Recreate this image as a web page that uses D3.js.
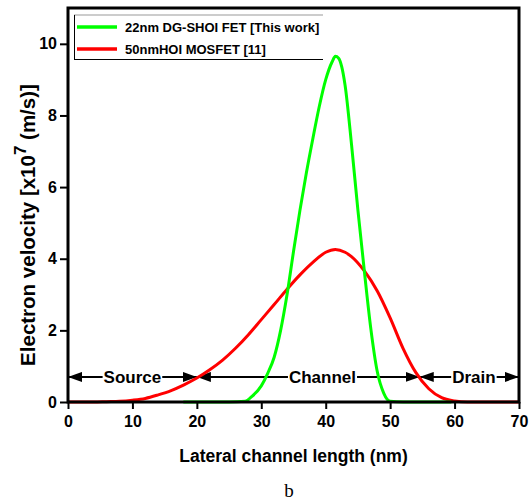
<!DOCTYPE html>
<html><head><meta charset="utf-8">
<script src="https://cdn.jsdelivr.net/npm/d3@7"></script>
<style>body{margin:0;background:#fff}svg{display:block}</style>
</head><body>
<script>
const greenX = [17.9, 20, 25, 27.5, 28.5, 30, 31, 32, 33, 34, 35, 36, 37, 38, 39, 40, 41, 41.5, 42, 42.5, 43, 44, 45, 46, 47, 48, 49, 50, 52, 55, 59.5];
const greenY = [0, 0, 0, 0.02, 0.15, 0.45, 0.8, 1.25, 2.0, 3.0, 4.2, 5.35, 6.4, 7.35, 8.25, 9.0, 9.5, 9.65, 9.6, 9.35, 8.85, 7.2, 5.35, 3.65, 2.05, 0.85, 0.25, 0.02, 0, 0, 0];
const redX = [0, 2, 4, 6, 8, 10, 12, 14, 16, 18, 20, 22, 24, 26, 28, 30, 32, 34, 36, 38, 40, 41.5, 43, 44, 46, 48, 50, 52, 54, 56, 58, 60, 62, 64, 66, 68, 70];
const redY = [0, 0, 0, 0.01, 0.02, 0.05, 0.1, 0.2, 0.32, 0.48, 0.67, 0.9, 1.17, 1.5, 1.88, 2.3, 2.72, 3.15, 3.55, 3.9, 4.18, 4.26, 4.18, 4.06, 3.66, 3.1, 2.35, 1.5, 0.82, 0.37, 0.12, 0.03, 0, 0, 0, 0, 0];
const seriesNames = ["22nm DG-SHOI FET [This work]", "50nmHOI MOSFET [11]"];
const seriesColors = ["#00ff00", "#ff0000"];
const xTicks = [0, 10, 20, 30, 40, 50, 60, 70];
const yTicks = [0, 2, 4, 6, 8, 10];
const regionLabels = ["Source", "Channel", "Drain"];
const regionBounds = [0, 20, 54.6, 70];
const regionTextX = [10, 39.5, 63];
const arrowLevel = 0.7;

const W = 532, H = 501;
const m = {l: 68, r: 519, t: 8, b: 402};
const svg = d3.select("body").append("svg").attr("width", W).attr("height", H);
const x = d3.scaleLinear().domain([0, 70]).range([m.l, m.r]);
const y = d3.scaleLinear().domain([0, 11]).range([m.b, m.t]);

const defs = svg.append("defs");
defs.append("marker").attr("id", "ah").attr("viewBox", "0 0 14 10").attr("refX", 14).attr("refY", 5)
  .attr("markerWidth", 14).attr("markerHeight", 10).attr("markerUnits", "userSpaceOnUse").attr("orient", "auto-start-reverse")
  .append("path").attr("d", "M0,0 L14,5 L0,10 Z").attr("fill", "#000");

const line = d3.line().x(d => x(d[0])).y(d => y(d[1])).curve(d3.curveMonotoneX);
const greenData = greenX.map((v, i) => [v, greenY[i]]);
const redData = redX.map((v, i) => [v, redY[i]]);

const font = "'Liberation Sans', Arial, sans-serif";
regionLabels.forEach((lab, i) => {
  svg.append("line").attr("x1", x(regionBounds[i])).attr("x2", x(regionBounds[i + 1]))
    .attr("y1", y(arrowLevel)).attr("y2", y(arrowLevel)).attr("stroke", "#000").attr("stroke-width", 2)
    .attr("marker-start", "url(#ah)").attr("marker-end", "url(#ah)");
});
const labG = svg.append("g");
regionLabels.forEach((lab, i) => {
  const t = labG.append("text").attr("x", x(regionTextX[i])).attr("y", y(arrowLevel) + 6)
    .attr("text-anchor", "middle").attr("font-family", font).attr("font-size", 17).attr("font-weight", "bold")
    .attr("fill", "#000").text(lab);
  const bb = t.node().getBBox();
  labG.insert("rect", "text").attr("x", bb.x - 1).attr("y", y(arrowLevel) - 3).attr("width", bb.width + 2).attr("height", 6).attr("fill", "#fff");
});

svg.append("path").datum(redData).attr("d", line).attr("fill", "none").attr("stroke", seriesColors[1]).attr("stroke-width", 3);
svg.append("path").datum(greenData).attr("d", line).attr("fill", "none").attr("stroke", seriesColors[0]).attr("stroke-width", 3);

const xAxis = svg.append("g").attr("transform", `translate(0,${m.b})`)
  .call(d3.axisBottom(x).tickValues(xTicks).tickSize(7).tickSizeOuter(0).tickPadding(7));
const yAxis = svg.append("g").attr("transform", `translate(${m.l},0)`)
  .call(d3.axisLeft(y).tickValues(yTicks).tickSize(8).tickSizeOuter(0).tickPadding(3));
[xAxis, yAxis].forEach(a => {
  a.select(".domain").remove();
  a.selectAll(".tick line").attr("stroke", "#000").attr("stroke-width", 2);
  a.selectAll(".tick text").attr("font-family", font).attr("font-size", 16).attr("font-weight", "bold").attr("fill", "#000");
});
svg.append("rect").attr("x", m.l).attr("y", m.t).attr("width", m.r - m.l).attr("height", m.b - m.t)
  .attr("fill", "none").attr("stroke", "#000").attr("stroke-width", 3);

const lg = svg.append("g");
lg.append("line").attr("x1", 74).attr("x2", 323).attr("y1", 15).attr("y2", 15).attr("stroke", "#999").attr("stroke-width", 1);
lg.append("line").attr("x1", 74).attr("x2", 323).attr("y1", 59.5).attr("y2", 59.5).attr("stroke", "#000").attr("stroke-width", 1);
lg.append("line").attr("x1", 74.5).attr("x2", 74.5).attr("y1", 15).attr("y2", 60).attr("stroke", "#000").attr("stroke-width", 1);
seriesNames.forEach((n, i) => {
  const yy = 27 + i * 22;
  lg.append("line").attr("x1", 77).attr("x2", 117).attr("y1", yy).attr("y2", yy).attr("stroke", seriesColors[i]).attr("stroke-width", 3.5);
  lg.append("text").attr("x", 125).attr("y", yy + 5).attr("font-family", font).attr("font-size", 13).attr("font-weight", "bold").text(n);
});

svg.append("text").attr("x", (m.l + m.r) / 2).attr("y", 462).attr("text-anchor", "middle")
  .attr("font-family", font).attr("font-size", 17.5).attr("font-weight", "bold").text("Lateral channel length (nm)");
const yt = svg.append("text").attr("transform", `translate(35,225) rotate(-90)`).attr("text-anchor", "middle")
  .attr("font-family", font).attr("font-size", 20.5).attr("font-weight", "bold");
yt.append("tspan").text("Electron velocity [x10");
yt.append("tspan").attr("dy", -9).attr("font-size", 17).text("7");
yt.append("tspan").attr("dy", 9).text(" (m/s)]");
svg.append("text").attr("x", 289).attr("y", 497).attr("text-anchor", "middle")
  .attr("font-family", "'Liberation Serif', 'Times New Roman', serif").attr("font-size", 19).text("b");
</script>
</body></html>
